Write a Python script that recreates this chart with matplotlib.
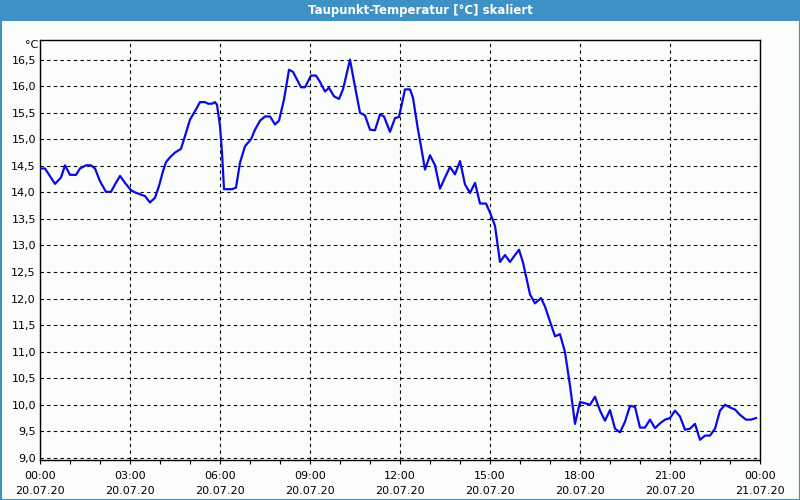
import matplotlib
matplotlib.use("Agg")
import matplotlib.pyplot as plt
from matplotlib.ticker import MultipleLocator, FuncFormatter
from matplotlib.patches import Rectangle

title = "Taupunkt-Temperatur [°C] skaliert"
unit = "°C"

# minutes since 20.07.20 00:00
minutes = [0, 10, 30, 42, 50, 60, 72, 80, 92, 102, 110, 120, 132, 142, 150, 160, 170,
           182, 190, 210, 220, 230, 238, 246, 252, 260, 270, 282, 288, 300, 310, 320,
           330, 336, 344, 350, 354, 360, 364, 368, 384, 392, 400, 410, 422, 430, 440,
           450, 460, 470, 478, 488, 498, 506, 522, 530, 542, 552, 560, 570, 578, 588,
           598, 606, 620, 628, 640, 650, 660, 670, 680, 688, 700, 710, 718, 730, 740,
           746, 756, 762, 770, 780, 790, 800, 810, 820, 830, 840, 850, 860, 870, 880,
           892, 900, 910, 920, 930, 940, 950, 958, 966, 980, 990, 1002, 1010, 1030,
           1040, 1050, 1060, 1070, 1080, 1090, 1100, 1110, 1120, 1130, 1140, 1150,
           1160, 1170, 1180, 1190, 1200, 1210, 1220, 1230, 1240, 1250, 1260, 1270,
           1280, 1290, 1300, 1310, 1320, 1330, 1340, 1350, 1360, 1370, 1380, 1390,
           1400, 1412, 1422, 1432]
values = [14.45, 14.45, 14.16, 14.28, 14.51, 14.33, 14.33, 14.45, 14.51, 14.51, 14.45,
          14.21, 14.01, 14.01, 14.15, 14.31, 14.18, 14.04, 14.00, 13.93, 13.81, 13.90,
          14.12, 14.40, 14.57, 14.66, 14.75, 14.82, 15.00, 15.37, 15.53, 15.70, 15.70,
          15.67, 15.67, 15.70, 15.65, 15.25, 14.75, 14.06, 14.06, 14.09, 14.56, 14.87,
          15.00, 15.18, 15.35, 15.43, 15.43, 15.28, 15.35, 15.75, 16.31, 16.27, 15.98,
          15.98, 16.20, 16.20, 16.08, 15.90, 15.97, 15.81, 15.76, 15.94, 16.50, 16.09,
          15.50, 15.45, 15.18, 15.17, 15.47, 15.43, 15.14, 15.40, 15.42, 15.94, 15.94,
          15.78, 15.18, 14.87, 14.43, 14.70, 14.51, 14.07, 14.28, 14.48, 14.34, 14.59,
          14.15, 13.99, 14.18, 13.79, 13.79, 13.62, 13.37, 12.69, 12.82, 12.69, 12.82,
          12.92, 12.68, 12.08, 11.91, 12.01, 11.85, 11.29, 11.33, 10.99, 10.36, 9.64,
          10.05, 10.03, 10.00, 10.15, 9.89, 9.70, 9.90, 9.55, 9.48, 9.68, 9.98, 9.96,
          9.57, 9.57, 9.72, 9.56, 9.65, 9.72, 9.75, 9.89, 9.78, 9.53, 9.55, 9.64, 9.34,
          9.42, 9.42, 9.55, 9.89, 10.00, 9.95, 9.91, 9.81, 9.72, 9.72, 9.75]

tick_times = ["00:00", "03:00", "06:00", "09:00", "12:00", "15:00", "18:00", "21:00", "00:00"]
tick_dates = ["20.07.20"] * 8 + ["21.07.20"]

hours = [m / 60.0 for m in minutes]

plt.rcParams['font.family'] = ['DejaVu Sans']
fig = plt.figure(figsize=(8, 5), dpi=100)
fig.patch.set_facecolor('#fbfdfb')

blue = '#3d91c5'
# title bar and frame
fig.add_artist(Rectangle((0, 1 - 21 / 500), 1, 21 / 500, transform=fig.transFigure,
                         facecolor=blue, edgecolor='none', zorder=0))
fig.add_artist(Rectangle((0.5 / 800, 0.5 / 500), 1 - 1 / 800, 1 - 1 / 500,
                         transform=fig.transFigure, facecolor='none',
                         edgecolor=blue, lw=1.5, zorder=0))
fig.text(420 / 800, 1 - 10.5 / 500, title, color='white', fontsize=8.5,
         fontweight='bold', ha='center', va='center')

ax = fig.add_axes([40 / 800, 40 / 500, 720 / 800, 420 / 500])
ax.set_facecolor('#fbfdfb')
ax.plot(hours, values, color='#0a0ae6', lw=1.6, zorder=3)

ax.set_xlim(0, 24)
ax.set_ylim(8.96, 16.87)

ax.xaxis.set_major_locator(MultipleLocator(3))
ax.xaxis.set_minor_locator(MultipleLocator(1))
ax.set_xticks([3 * i for i in range(len(tick_times))])
ax.set_xticklabels([f"{t}\n{d}" for t, d in zip(tick_times, tick_dates)])
ax.yaxis.set_major_locator(MultipleLocator(0.5))
ax.yaxis.set_major_formatter(FuncFormatter(lambda v, p: f"{v:.1f}".replace('.', ',')))

ax.tick_params(axis='x', which='both', length=3, width=0.8, direction='out',
               labelsize=8, pad=5, colors='black')
ax.tick_params(axis='y', length=0, labelsize=8, pad=3)
for lab in ax.get_xticklabels():
    lab.set_linespacing(1.6)

ax.grid(True, which='major', color='black', linestyle=(0, (3, 3)), lw=0.8)
for s in ax.spines.values():
    s.set_color('black')
    s.set_linewidth(1.0)

ax.text(-0.003, 1.0, unit, transform=ax.transAxes, ha='right', va='top', fontsize=8)

fig.savefig("out.png", dpi=100, facecolor=fig.get_facecolor())
